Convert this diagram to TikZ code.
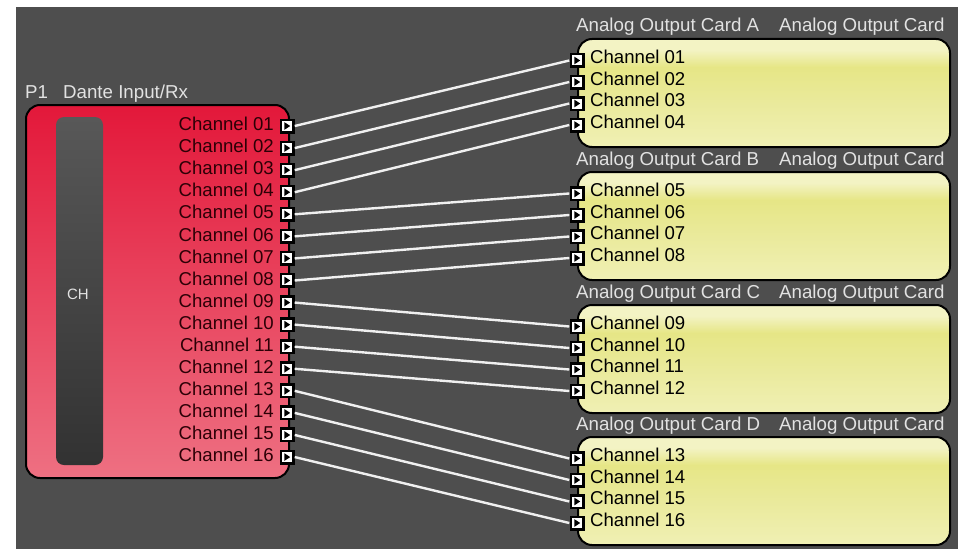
\documentclass[tikz,border=0pt]{standalone}
\usepackage{fontspec}
\setmainfont{Liberation Sans}
\definecolor{bgcol}{HTML}{4E4E4E}
\definecolor{redtop}{HTML}{E3183A}
\definecolor{redbot}{HTML}{EE7082}
\definecolor{ylwtop}{HTML}{F3F3C4}
\definecolor{ylwmid}{HTML}{E6E686}
\definecolor{ylwlow}{HTML}{EAEA9C}
\definecolor{ylwbot}{HTML}{F0F0B4}
\definecolor{titlecol}{HTML}{E2E2E2}
\definecolor{redtext}{HTML}{2C0006}
\definecolor{slidertop}{HTML}{585858}
\definecolor{sliderbot}{HTML}{323232}
\pgfdeclareverticalshading{cardshade}{100bp}{color(0bp)=(ylwbot); color(25bp)=(ylwbot); color(45bp)=(ylwlow); color(62bp)=(ylwmid); color(70bp)=(ylwtop); color(75bp)=(ylwtop); color(100bp)=(ylwtop)}
\begin{document}
\begin{tikzpicture}[x=1pt,y=-1pt,
  redbox/.style={draw=black, line width=2pt, rounded corners=14pt, top color=redtop, bottom color=redbot,
    minimum width=263pt, minimum height=373pt, anchor=north west, inner sep=0pt},
  card/.style={draw=black, line width=2pt, rounded corners=14pt, shading=cardshade,
    minimum width=372pt, minimum height=108pt, anchor=north west, inner sep=0pt},
  slider/.style={rounded corners=8pt, top color=slidertop, bottom color=sliderbot,
    minimum width=47pt, minimum height=348pt, inner sep=0pt},
  title/.style={text=titlecol, font=\fontsize{18.7}{20}\selectfont, inner sep=0pt, anchor=west,
    text height=13.5pt, text depth=4pt},
  redlbl/.style={text=redtext, font=\fontsize{18.6}{20}\selectfont, inner sep=0pt, anchor=east},
  cardlbl/.style={text=black, font=\fontsize{18.6}{20}\selectfont, inner sep=0pt, anchor=west},
  chlbl/.style={text=titlecol, font=\fontsize{15}{17}\selectfont, inner sep=0pt},
  port/.style={rectangle, fill=black, minimum size=15pt, inner sep=0pt,
    path picture={
      \fill[white] ([shift={(-5pt,-5pt)}]path picture bounding box.center) rectangle ++(10pt,10pt);
      \fill[black] ([shift={(-2.6pt,-3.8pt)}]path picture bounding box.center) -- ++(0pt,7.6pt) -- ++(5.8pt,-3.8pt) -- cycle;
    }},
  wire/.style={draw=white!94!black, line width=2.4pt}
]
\useasboundingbox (0,0) rectangle (963,551);
\fill[white] (0,0) rectangle (963,551);
\fill[bgcol] (16,7) rectangle (958,549);

% Dante input block
\node[title] (p1) at (25,93.25) {P1};
\node[title] (dname) at (63,93.25) {Dante Input/Rx};
\node[redbox] (dante) at (25,104) {};
\node[slider] (slider) at (79.5,291) {};
\node[chlbl] (ch) at (78,294) {CH};
\foreach \i in {1,...,16} {
  \node[redlbl] (lt\i) at (274,{124+22.07*(\i-1)}) {Channel \ifnum\i<10 0\fi\i};
  \node[port] (o\i) at (287,{126+22.07*(\i-1)}) {};
}

% Analog output cards
\foreach \c/\t [count=\k from 0] in {A/38,B/171,C/304,D/436} {
  \node[title] (ta\c) at (576,\t-10.75) {Analog Output Card \c};
  \node[title] (tb\c) at (779,\t-10.75) {Analog Output Card};
  \node[card] (card\c) at (577,\t) {};
  \foreach \j in {1,...,4} {
    \pgfmathtruncatemacro\n{4*\k+\j}
    \node[cardlbl] (rt\n) at (590,{\t+19+21.5*(\j-1)}) {Channel \ifnum\n<10 0\fi\n};
    \node[port] (i\n) at (577,{\t+22.5+21.5*(\j-1)}) {};
  }
}

% Connections
\foreach \n in {1,...,16} {
  \draw[wire] (o\n.east) -- (i\n.west);
}
\end{tikzpicture}
\end{document}
